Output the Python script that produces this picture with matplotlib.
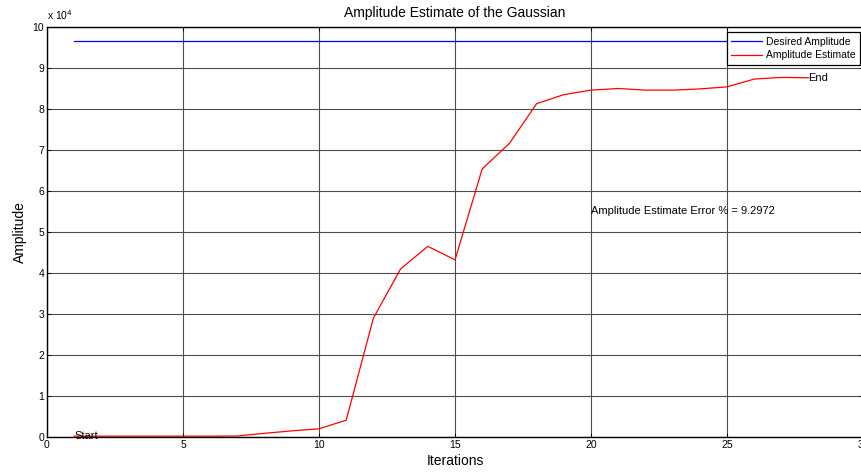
import matplotlib
matplotlib.use("Agg")
import matplotlib.pyplot as plt
from matplotlib.ticker import FuncFormatter

plt.rcParams['font.family'] = ['Liberation Sans', 'DejaVu Sans']

# Iteration index and the amplitude estimate at each step
iterations = list(range(1, 29))
estimate = [200, 200, 200, 200, 200, 200, 250, 900, 1500, 2000,
            4100, 29000, 41000, 46500, 43200, 65400, 71600, 81300,
            83500, 84600, 85000, 84600, 84600, 84900, 85400, 87300,
            87700, 87619]
desired_amplitude = 96600
error_pct = 9.2972

fig = plt.figure(figsize=(8.62, 4.72), dpi=100)
ax = fig.add_axes([47 / 862, 35 / 472, 816 / 862, 410 / 472])

ax.plot([iterations[0], iterations[-1]], [desired_amplitude] * 2,
        color=(0, 0, 1), lw=0.9, label='Desired Amplitude')
ax.plot(iterations, estimate, color=(1, 0, 0), lw=0.9, label='Amplitude Estimate')

ax.text(iterations[0], estimate[0], 'Start', fontsize=8, va='center', ha='left')
ax.text(iterations[-1], estimate[-1], 'End', fontsize=8, va='center', ha='left')
ax.text(20, 55000, 'Amplitude Estimate Error %% = %.4f' % error_pct,
        fontsize=8, va='center', ha='left')

ax.set_xlim(0, 30)
ax.set_ylim(0, 100000)
ax.set_xticks(range(0, 31, 5))
ax.set_yticks(range(0, 100001, 10000))
ax.yaxis.set_major_formatter(FuncFormatter(lambda v, p: '%g' % (v / 1e4)))
ax.tick_params(direction='in', length=3, width=0.6, labelsize=7.5, pad=2,
               top=True, right=True)
ax.grid(True, color='#4d4d4d', lw=0.8)
for s in ax.spines.values():
    s.set_linewidth(1.0)
    s.set_color('black')

ax.text(0, 1.012, r'x 10$^4$', transform=ax.transAxes, fontsize=7.5,
        ha='left', va='bottom')
ax.set_title('Amplitude Estimate of the Gaussian', fontsize=10, pad=7)
ax.set_xlabel('Iterations', fontsize=10, labelpad=3)
ax.set_ylabel('Amplitude', fontsize=10, labelpad=4)

leg = ax.legend(loc='upper right', bbox_to_anchor=(860 / 862, 440 / 472),
                bbox_transform=fig.transFigure, borderaxespad=0,
                fontsize=7.5, fancybox=False, framealpha=1,
                edgecolor='black', handlelength=2.9, handletextpad=0.4,
                borderpad=0.45, labelspacing=0.35)
leg.get_frame().set_linewidth(0.9)

fig.savefig('out.png', dpi=100)
